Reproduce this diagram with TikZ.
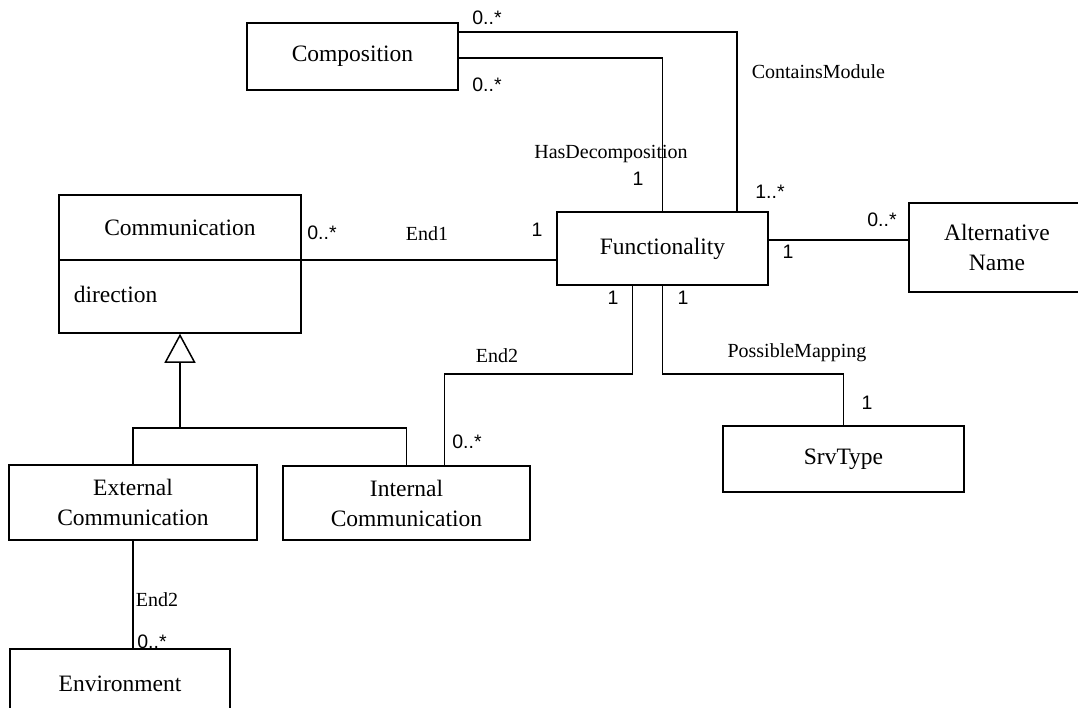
\documentclass[tikz,border=0pt]{standalone}
\usepackage{fontspec}
\setmainfont{Liberation Serif}
\setsansfont{Liberation Sans}
\usetikzlibrary{arrows.meta,calc}

\begin{document}
\begin{tikzpicture}[x=1pt,y=-1pt,line width=1.5pt,
  class text/.style={font=\fontsize{23.5}{30}\selectfont},
  class node/.style={rectangle,draw,align=center,inner sep=0pt,class text},
  role/.style={font=\fontsize{20}{22}\selectfont,inner sep=0pt},
  mult/.style={font=\sffamily\fontsize{19.5}{21}\selectfont,inner sep=0pt},
  gen arrow/.style={-{Triangle[open,length=29pt,width=31pt]}}]

  \useasboundingbox (0,0) rectangle (1078,708);
  \clip (0,0) rectangle (1078,708);

  \node[class node,minimum width=211pt,minimum height=67pt] (comp) at (352.5,56.5) {Composition};
  \node[class node,minimum width=211pt,minimum height=73pt] (func) at (662.5,248.5) {Functionality};
  \node[class node,minimum width=176pt,minimum height=89pt] (alt) at (997,247.5) {Alternative\\Name};
  \node[class node,minimum width=241pt,minimum height=66pt] (srv) at (843.5,459) {SrvType};
  \node[class node,minimum width=242pt,minimum height=138pt] (comm) at (180,264) {};
  \node[class text] (commname) at (180,228) {Communication};
  \node[class text,anchor=base west,inner sep=0pt] (commattr) at (73,303) {direction};
  \node[class node,minimum width=248pt,minimum height=75pt] (ext) at (133,502.5) {External\\Communication};
  \node[class node,minimum width=247pt,minimum height=74pt] (int) at (406.5,503) {Internal\\Communication};
  \node[class node,minimum width=220pt,minimum height=70pt] (env) at (120,684) {Environment};

  \coordinate (div) at (180,260);
  \coordinate (gen) at (180,428);
  \coordinate (fa) at (768,240);

  \draw (comm.west |- div) -- (comm.east |- div);

  % associations
  \draw ($(comp.north east)+(0,10)$) -| ($(func.north east)+(-32,0)$);
  \draw ($(comp.east)+(0,1.5)$) -| (func.north);
  \draw (comm.east |- div) -- (func.west |- div);
  \draw (fa) -- (alt.west |- fa);
  \draw ($(func.south)+(-30,0)$) -- ++(0,88) -| ($(int.north)+(38,0)$);
  \draw (func.south) -- ++(0,88) -| (srv.north);
  \draw (ext.south) -- (ext.south |- env.north);

  % generalization
  \draw[gen arrow] (gen) -- (comm.south);
  \draw (ext.north) |- (gen) -| (int.north);

  \node[mult] (m1) at (487,18) {0..*};
  \node[mult] (m2) at (487,85) {0..*};
  \node[role,anchor=west] (r1) at (751,72) {ContainsModule};
  \node[role] (r2) at (611,154) {HasDecomposition};
  \node[mult] (m3) at (638,179) {1};
  \node[mult] (m4) at (770,192) {1..*};
  \node[mult] (m5) at (322,233) {0..*};
  \node[role] (r3) at (427,234) {End1};
  \node[mult] (m6) at (537,230) {1};
  \node[mult] (m7) at (882,220) {0..*};
  \node[mult] (m8) at (788,252) {1};
  \node[mult] (m9) at (613,298) {1};
  \node[mult] (m10) at (683,298) {1};
  \node[role] (r4) at (497,356) {End2};
  \node[mult] (m11) at (467,442) {0..*};
  \node[role] (r5) at (797,353) {PossibleMapping};
  \node[mult] (m12) at (867,403) {1};
  \node[role] (r6) at (157,600) {End2};
  \node[mult] (m13) at (152,642) {0..*};
\end{tikzpicture}
\end{document}
